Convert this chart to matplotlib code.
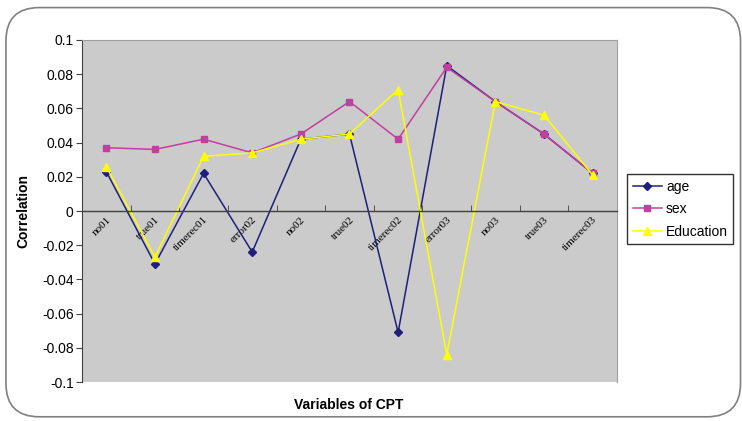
import matplotlib
matplotlib.use("Agg")
import matplotlib.pyplot as plt
from matplotlib.patches import FancyBboxPatch
from matplotlib.ticker import FixedLocator, NullFormatter
from matplotlib.transforms import ScaledTranslation
import numpy as np

categories = ["no01", "true01", "timerec01", "error02", "no02", "true02",
              "timerec02", "error03", "no03", "true03", "timerec03"]
age = [0.023, -0.031, 0.022, -0.024, 0.042, 0.045, -0.071, 0.085, 0.064, 0.045, 0.022]
sex = [0.037, 0.036, 0.042, 0.034, 0.045, 0.064, 0.042, 0.084, 0.064, 0.045, 0.022]
education = [0.026, -0.027, 0.032, 0.034, 0.042, 0.045, 0.071, -0.084, 0.064, 0.056, 0.021]
y_ticks = [0.1, 0.08, 0.06, 0.04, 0.02, 0, -0.02, -0.04, -0.06, -0.08, -0.1]

plt.rcParams["font.family"] = ["Liberation Sans", "DejaVu Sans"]

fig = plt.figure(figsize=(7.42, 4.21), dpi=100)
fig.patch.set_facecolor("white")

# rounded frame around the whole chart
frame = FancyBboxPatch((0.008, 0.01), 0.99, 0.972,
                       boxstyle="round,pad=0,rounding_size=0.045",
                       transform=fig.transFigure, facecolor="none",
                       edgecolor="#808080", linewidth=1.2,
                       mutation_aspect=742 / 421)
fig.patches.append(frame)

ax = fig.add_axes([0.1105, 0.0926, 0.7210, 0.8124])
ax.set_facecolor("#CBCBCB")

x = np.arange(len(categories))
ax.plot(x, age, color="#1F1F7A", marker="D", markersize=4.5, linewidth=1.1,
        label="age")
ax.plot(x, sex, color="#C040A0", marker="s", markersize=5, linewidth=1.1,
        label="sex")
ax.plot(x, education, color="#FFFF00", marker="^", markersize=6, linewidth=1.1,
        label="Education")

ax.set_xlim(-0.5, len(categories) - 0.5)
ax.set_ylim(-0.1, 0.1)
ax.set_yticks(y_ticks)
ax.set_yticklabels([f"{v:g}" for v in y_ticks], fontsize=10)

# category axis sits on the zero line
for side in ["top", "right"]:
    ax.spines[side].set_color("#A0A0A0")
    ax.spines[side].set_linewidth(0.8)
ax.spines["left"].set_color("#404040")
ax.spines["bottom"].set_position(("data", 0))
ax.spines["bottom"].set_color("#404040")
ax.spines["bottom"].set_linewidth(1.0)
ax.tick_params(axis="y", direction="out", length=4, color="#404040", pad=2)

ax.set_xticks(x)
ax.set_xticklabels(categories, rotation=45, ha="right", va="top",
                   rotation_mode="anchor", fontsize=8,
                   family=["Liberation Serif", "DejaVu Serif"])
shift = ScaledTranslation(-8 / 72, 0, fig.dpi_scale_trans)
for lbl in ax.get_xticklabels():
    lbl.set_transform(lbl.get_transform() + shift)
ax.tick_params(axis="x", which="major", length=0, pad=3)
ax.xaxis.set_minor_locator(FixedLocator(np.arange(0.5, len(categories) - 0.5, 1)))
ax.xaxis.set_minor_formatter(NullFormatter())
ax.tick_params(axis="x", which="minor", direction="in", length=4, color="#404040")

ax.set_ylabel("Correlation", fontsize=10, fontweight="bold", labelpad=8)
fig.text(0.47, 0.038, "Variables of CPT", ha="center", va="center",
         fontsize=10, fontweight="bold")

leg = fig.legend(loc="upper left", bbox_to_anchor=(0.845, 0.586),
                 borderaxespad=0, fontsize=10, frameon=True, fancybox=False,
                 edgecolor="black", handlelength=2.1, borderpad=0.4,
                 labelspacing=0.6, handletextpad=0.3)
leg.get_frame().set_linewidth(1.0)

fig.savefig("out.png", dpi=100)
